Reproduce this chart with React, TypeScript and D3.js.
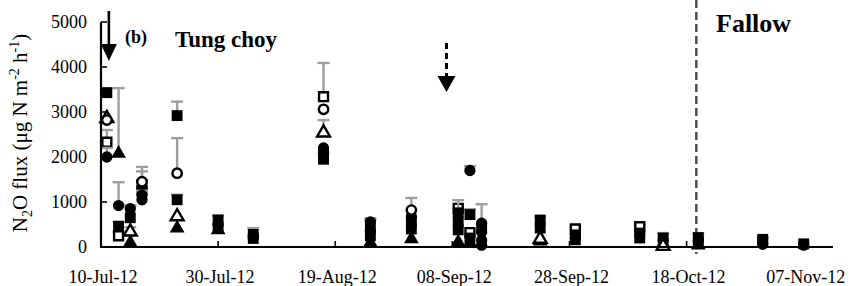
import React from "react";
import * as d3 from "d3";

const W = 852;
const H = 286;

// X axis tick dates and labels
const xTickDates = ["2012-07-10", "2012-07-30", "2012-08-19", "2012-09-08", "2012-09-28", "2012-10-18", "2012-11-07"];
const xTickLabels = ["10-Jul-12", "30-Jul-12", "19-Aug-12", "08-Sep-12", "28-Sep-12", "18-Oct-12", "07-Nov-12"];
const yTicks = [0, 1000, 2000, 3000, 4000, 5000];

// [date, flux, +error]
type Pt = [string, number, number];

const openSquare: Pt[] = [
  ["2012-07-11", 2330, 270],
  ["2012-07-13", 250, 80],
  ["2012-07-17", 1380, 300],
  ["2012-08-17", 3340, 750],
  ["2012-09-09", 860, 0],
  ["2012-09-11", 320, 0],
  ["2012-09-29", 400, 60],
  ["2012-10-10", 450, 50],
];

const filledSquare: Pt[] = [
  ["2012-07-11", 3430, 100],
  ["2012-07-13", 460, 100],
  ["2012-07-15", 650, 250],
  ["2012-07-17", 1250, 150],
  ["2012-07-23", 2920, 310],
  ["2012-07-23", 1050, 110],
  ["2012-07-30", 600, 100],
  ["2012-07-30", 420, 0],
  ["2012-08-05", 280, 140],
  ["2012-08-05", 190, 0],
  ["2012-08-17", 1950, 0],
  ["2012-08-17", 2050, 50],
  ["2012-08-25", 420, 180],
  ["2012-08-25", 250, 0],
  ["2012-09-01", 560, 0],
  ["2012-09-01", 400, 0],
  ["2012-09-09", 760, 280],
  ["2012-09-09", 560, 0],
  ["2012-09-09", 380, 0],
  ["2012-09-11", 720, 120],
  ["2012-09-11", 200, 0],
  ["2012-09-13", 430, 0],
  ["2012-09-23", 600, 70],
  ["2012-09-23", 420, 0],
  ["2012-09-29", 270, 0],
  ["2012-09-29", 160, 0],
  ["2012-10-10", 310, 0],
  ["2012-10-10", 200, 0],
  ["2012-10-14", 200, 110],
  ["2012-10-20", 210, 90],
  ["2012-10-20", 120, 0],
  ["2012-10-31", 170, 40],
  ["2012-10-31", 100, 0],
  ["2012-11-07", 70, 30],
];

const filledCircle: Pt[] = [
  ["2012-07-11", 2000, 200],
  ["2012-07-13", 920, 520],
  ["2012-07-15", 850, 80],
  ["2012-07-17", 1050, 200],
  ["2012-07-17", 1150, 0],
  ["2012-07-30", 500, 0],
  ["2012-08-05", 230, 0],
  ["2012-08-17", 2200, 0],
  ["2012-08-25", 560, 80],
  ["2012-08-25", 350, 0],
  ["2012-09-01", 680, 0],
  ["2012-09-11", 1700, 100],
  ["2012-09-13", 530, 420],
  ["2012-09-13", 330, 0],
  ["2012-09-13", 150, 0],
  ["2012-09-13", 40, 0],
  ["2012-09-29", 200, 0],
  ["2012-10-14", 150, 0],
  ["2012-10-20", 130, 0],
  ["2012-10-31", 60, 0],
  ["2012-11-07", 40, 0],
];

const openCircle: Pt[] = [
  ["2012-07-11", 2820, 0],
  ["2012-07-17", 1450, 330],
  ["2012-07-23", 1640, 780],
  ["2012-08-17", 3060, 0],
  ["2012-09-01", 820, 270],
];

const filledTriangle: Pt[] = [
  ["2012-07-13", 2100, 1430],
  ["2012-07-15", 120, 0],
  ["2012-07-23", 440, 0],
  ["2012-07-30", 400, 0],
  ["2012-08-25", 120, 0],
  ["2012-09-01", 200, 0],
  ["2012-09-09", 130, 0],
  ["2012-09-11", 110, 0],
  ["2012-09-23", 150, 0],
  ["2012-10-14", 100, 0],
  ["2012-10-20", 60, 0],
];

const openTriangle: Pt[] = [
  ["2012-07-11", 2880, 0],
  ["2012-07-15", 360, 80],
  ["2012-07-23", 700, 0],
  ["2012-08-17", 2560, 260],
  ["2012-09-23", 200, 0],
  ["2012-10-14", 40, 0],
];

const fertArrowDate = "2012-07-11";
const secondArrowDate = "2012-09-07";
const fallowDate = "2012-10-20";

const parse = d3.timeParse("%Y-%m-%d");
const FONT = "'Liberation Serif', 'Times New Roman', Times, serif";

type Shape = "square" | "circle" | "triangle";

export default function App() {
  const x = d3
    .scaleTime()
    .domain([parse("2012-07-10") as Date, parse("2012-11-12") as Date])
    .range([101, 833]);
  const y = d3.scaleLinear().domain([0, 5000]).range([247, 22]);

  const series: { pts: Pt[]; shape: Shape; open: boolean }[] = [
    { pts: openSquare, shape: "square", open: true },
    { pts: filledTriangle, shape: "triangle", open: false },
    { pts: filledSquare, shape: "square", open: false },
    { pts: filledCircle, shape: "circle", open: false },
    { pts: openTriangle, shape: "triangle", open: true },
    { pts: openCircle, shape: "circle", open: true },
  ];

  const sym = (shape: Shape, open: boolean) => {
    const type = shape === "square" ? d3.symbolSquare : shape === "circle" ? d3.symbolCircle : d3.symbolTriangle;
    const size = shape === "square" ? (open ? 80 : 118) : shape === "circle" ? (open ? 70 : 100) : open ? 72 : 95;
    return d3.symbol().type(type).size(size)() as string;
  };

  const errColor = "#9e9e9e";

  const ax = x(parse(fertArrowDate) as Date) + 2;
  const bx = x(parse(secondArrowDate) as Date);
  const fx = x(parse(fallowDate) as Date) - 2;

  return (
    <svg width={W} height={H} style={{ position: "absolute", left: 0, top: 0, background: "#fff" }} fontFamily={FONT}>
      <rect x={0} y={0} width={W} height={H} fill="#fff" />

      {/* fallow dashed line */}
      <line x1={fx} x2={fx} y1={0} y2={254} stroke="#4a4a4a" strokeWidth={2.4} strokeDasharray="8,4" />

      {/* series */}
      {series.map((s, si) => (
        <g key={si}>
          {s.pts.map((p, i) => {
            const cx = x(parse(p[0]) as Date);
            const cy = y(p[1]);
            const ty = y(p[1] + p[2]);
            return (
              <g key={i}>
                {p[2] > 0 && (
                  <g stroke={errColor} strokeWidth={2.4}>
                    <line x1={cx} x2={cx} y1={cy} y2={ty} />
                    <line x1={cx - 6} x2={cx + 6} y1={ty} y2={ty} />
                  </g>
                )}
                <path
                  d={sym(s.shape, s.open)}
                  transform={`translate(${cx},${cy + (s.shape === "triangle" ? 1 : 0)})`}
                  fill={s.open ? "#fff" : "#000"}
                  stroke="#000"
                  strokeWidth={s.open ? 2.4 : 0}
                />
              </g>
            );
          })}
        </g>
      ))}

      {/* axes */}
      <line x1={101} x2={101} y1={22} y2={248} stroke="#000" strokeWidth={2.2} />
      <line x1={100} x2={833} y1={247} y2={247} stroke="#000" strokeWidth={2} />
      {yTicks.map((t) => (
        <g key={t}>
          <line x1={101} x2={107} y1={y(t)} y2={y(t)} stroke="#000" strokeWidth={1.6} />
          <text x={87} y={y(t) + 6} textAnchor="end" fontSize={18}>
            {t}
          </text>
        </g>
      ))}
      {xTickDates.map((d, i) => {
        const tx = x(parse(d) as Date);
        return (
          <g key={d}>
            <line x1={tx} x2={tx} y1={247} y2={241} stroke="#000" strokeWidth={1.6} />
            <text x={tx + 2} y={283} textAnchor="middle" fontSize={18}>
              {xTickLabels[i]}
            </text>
          </g>
        );
      })}

      {/* y label */}
      <text transform="translate(27,133) rotate(-90)" textAnchor="middle" fontSize={21}>
        N<tspan fontSize={14} dy={5}>2</tspan>
        <tspan dy={-5}>O flux (μg N m</tspan>
        <tspan fontSize={14} dy={-8}>-2</tspan>
        <tspan dy={8}> h</tspan>
        <tspan fontSize={14} dy={-8}>-1</tspan>
        <tspan dy={8}>)</tspan>
      </text>

      {/* solid arrow */}
      <line x1={ax} x2={ax} y1={11} y2={46} stroke="#000" strokeWidth={2.6} />
      <path d={`M${ax - 8},${44} L${ax + 8},${44} L${ax},${61} Z`} fill="#000" />

      {/* dashed arrow */}
      <line x1={bx} x2={bx} y1={43} y2={78} stroke="#000" strokeWidth={3} strokeDasharray="6,4" />
      <path d={`M${bx - 9},${76} L${bx + 9},${76} L${bx},${92} Z`} fill="#000" />

      {/* annotations */}
      <text x={125} y={43} fontSize={18} fontWeight="bold">
        (b)
      </text>
      <text x={175} y={47} fontSize={23} fontWeight="bold">
        Tung choy
      </text>
      <text x={716} y={32} fontSize={26} fontWeight="bold">
        Fallow
      </text>
    </svg>
  );
}
